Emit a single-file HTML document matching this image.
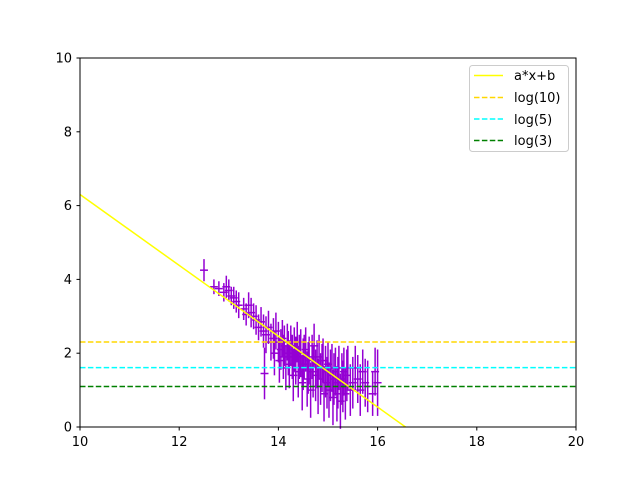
<!DOCTYPE html>
<html><head><meta charset="utf-8"><style>
body{margin:0;background:#fff;}
text{font-family:"DejaVu Sans","Liberation Sans",sans-serif;}
</style></head><body>
<svg id="c" width="640" height="480" xmlns="http://www.w3.org/2000/svg">
<rect width="640" height="480" fill="#fff"/>
<g id="data"></g>
<g id="lines"></g>
<rect x="80" y="58" width="496" height="369" fill="none" stroke="#000" stroke-width="1"/>
<g id="ticks" font-size="13"></g>
<g>
<rect x="469.5" y="65.5" width="99" height="86" rx="3" fill="#fff" fill-opacity="0.8" stroke="#ccc"/>
<line x1="474" y1="75.5" x2="503" y2="75.5" stroke="#ffff00" stroke-width="1.5"/>
<text x="514" y="80" font-size="13">a*x+b</text>
<line x1="474" y1="97.5" x2="503" y2="97.5" stroke="#ffd700" stroke-width="1.5" stroke-dasharray="5.5,2.4"/>
<text x="514" y="102" font-size="13">log(10)</text>
<line x1="474" y1="119" x2="503" y2="119" stroke="#00ffff" stroke-width="1.5" stroke-dasharray="5.5,2.4"/>
<text x="514" y="124" font-size="13">log(5)</text>
<line x1="474" y1="140.5" x2="503" y2="140.5" stroke="#008000" stroke-width="1.5" stroke-dasharray="5.5,2.4"/>
<text x="514" y="145" font-size="13">log(3)</text>
</g>
</svg>
<script>
const xVals=[12.5,12.7,12.8,12.9,12.95,13.0,13.05,13.1,13.15,13.2,13.3,13.35,13.4,13.45,13.5,13.55,13.6,13.65,13.7,13.72,13.75,13.8,13.85,13.9,13.92,13.95,14.0,14.02,14.05,14.08,14.1,14.12,14.15,14.18,14.2,14.22,14.25,14.28,14.3,14.32,14.35,14.38,14.4,14.42,14.45,14.48,14.5,14.52,14.55,14.58,14.6,14.62,14.65,14.68,14.7,14.72,14.75,14.78,14.8,14.82,14.85,14.88,14.9,14.92,14.95,14.98,15.0,15.02,15.05,15.08,15.1,15.12,15.15,15.18,15.2,15.22,15.25,15.28,15.3,15.32,15.35,15.38,15.4,15.45,15.5,15.55,15.6,15.65,15.7,15.75,15.8,15.9,15.95,16.0];
const yVals=[4.25,3.8,3.75,3.65,3.8,3.7,3.55,3.5,3.4,3.3,3.2,3.05,3.3,3.1,3.0,2.9,2.7,2.85,2.6,1.45,2.5,2.7,2.3,2.4,2.0,2.6,2.3,1.8,2.1,2.4,1.9,2.2,1.6,2.3,2.0,1.7,2.2,1.9,1.4,2.1,1.8,2.3,1.5,1.9,2.0,1.2,1.7,1.9,2.1,1.3,1.6,1.8,1.0,1.9,1.5,2.2,1.4,1.7,1.1,1.9,1.3,1.6,1.8,0.9,1.5,1.2,1.7,1.0,1.4,1.6,0.8,1.3,1.5,0.9,1.2,1.6,0.7,1.3,1.1,1.5,0.9,1.4,1.6,1.0,1.2,1.6,1.3,1.0,1.5,1.2,1.1,0.9,1.5,1.2];
const yErr=[0.3,0.2,0.2,0.25,0.3,0.3,0.25,0.3,0.3,0.35,0.3,0.3,0.35,0.4,0.35,0.4,0.35,0.4,0.45,0.7,0.5,0.45,0.5,0.55,0.6,0.5,0.55,0.6,0.55,0.5,0.6,0.55,0.6,0.5,0.6,0.65,0.55,0.6,0.7,0.6,0.65,0.55,0.7,0.6,0.65,0.75,0.7,0.6,0.6,0.75,0.7,0.65,0.75,0.6,0.7,0.6,0.7,0.65,0.75,0.6,0.7,0.65,0.6,0.75,0.7,0.7,0.6,0.75,0.7,0.65,0.75,0.7,0.65,0.75,0.7,0.6,0.75,0.7,0.7,0.65,0.7,0.7,0.6,0.7,0.7,0.6,0.65,0.7,0.6,0.65,0.7,0.6,0.65,0.9];
const xErr=0.08;
const fitA=-0.96, fitB=15.9;
const hLines=[2.303,1.609,1.099];
const hColors=["#ffd700","#00ffff","#008000"];
const hNames=["log10-line","log5-line","log3-line"];
const xTicks=[10,12,14,16,18,20];
const yTicks=[0,2,4,6,8,10];
const NS="http://www.w3.org/2000/svg";
const X=v=>80+(v-10)*49.6, Y=v=>427-v*36.9;
function mk(tag,attrs,parent){const e=document.createElementNS(NS,tag);for(const k in attrs)e.setAttribute(k,attrs[k]);parent.appendChild(e);return e;}
const gd=document.getElementById('data'), gl=document.getElementById('lines'), gt=document.getElementById('ticks');
xVals.forEach((x,i)=>{
  const g=mk('g',{stroke:'#9400d3','stroke-width':1.5},gd);
  
  
  mk('line',{x1:X(x),x2:X(x),y1:Y(yVals[i]-yErr[i]),y2:Y(yVals[i]+yErr[i])},g);
  mk('line',{x1:X(x-xErr),x2:X(x+xErr),y1:Y(yVals[i]),y2:Y(yVals[i])},g);
});
const xEnd=-fitB/fitA;
const fit=mk('line',{x1:X(10),y1:Y(fitA*10+fitB),x2:X(xEnd),y2:Y(0),stroke:'#ffff00','stroke-width':1.5},gl);


hLines.forEach((v,i)=>{
  const l=mk('line',{x1:80,x2:576,y1:Y(v),y2:Y(v),stroke:hColors[i],'stroke-width':1.5,'stroke-dasharray':'5.5,2.4'},gl);
  
  
});
xTicks.forEach(t=>{
  mk('line',{x1:X(t),x2:X(t),y1:427,y2:430.5,stroke:'#000'},gt);
  const tx=mk('text',{x:X(t),y:446,'text-anchor':'middle'},gt);tx.textContent=t;
  
  
});
yTicks.forEach(t=>{
  mk('line',{x1:76.5,x2:80,y1:Y(t),y2:Y(t),stroke:'#000'},gt);
  const tx=mk('text',{x:72,y:Y(t)+4.5,'text-anchor':'end'},gt);tx.textContent=t;
  
  
});
</script>
</body></html>
